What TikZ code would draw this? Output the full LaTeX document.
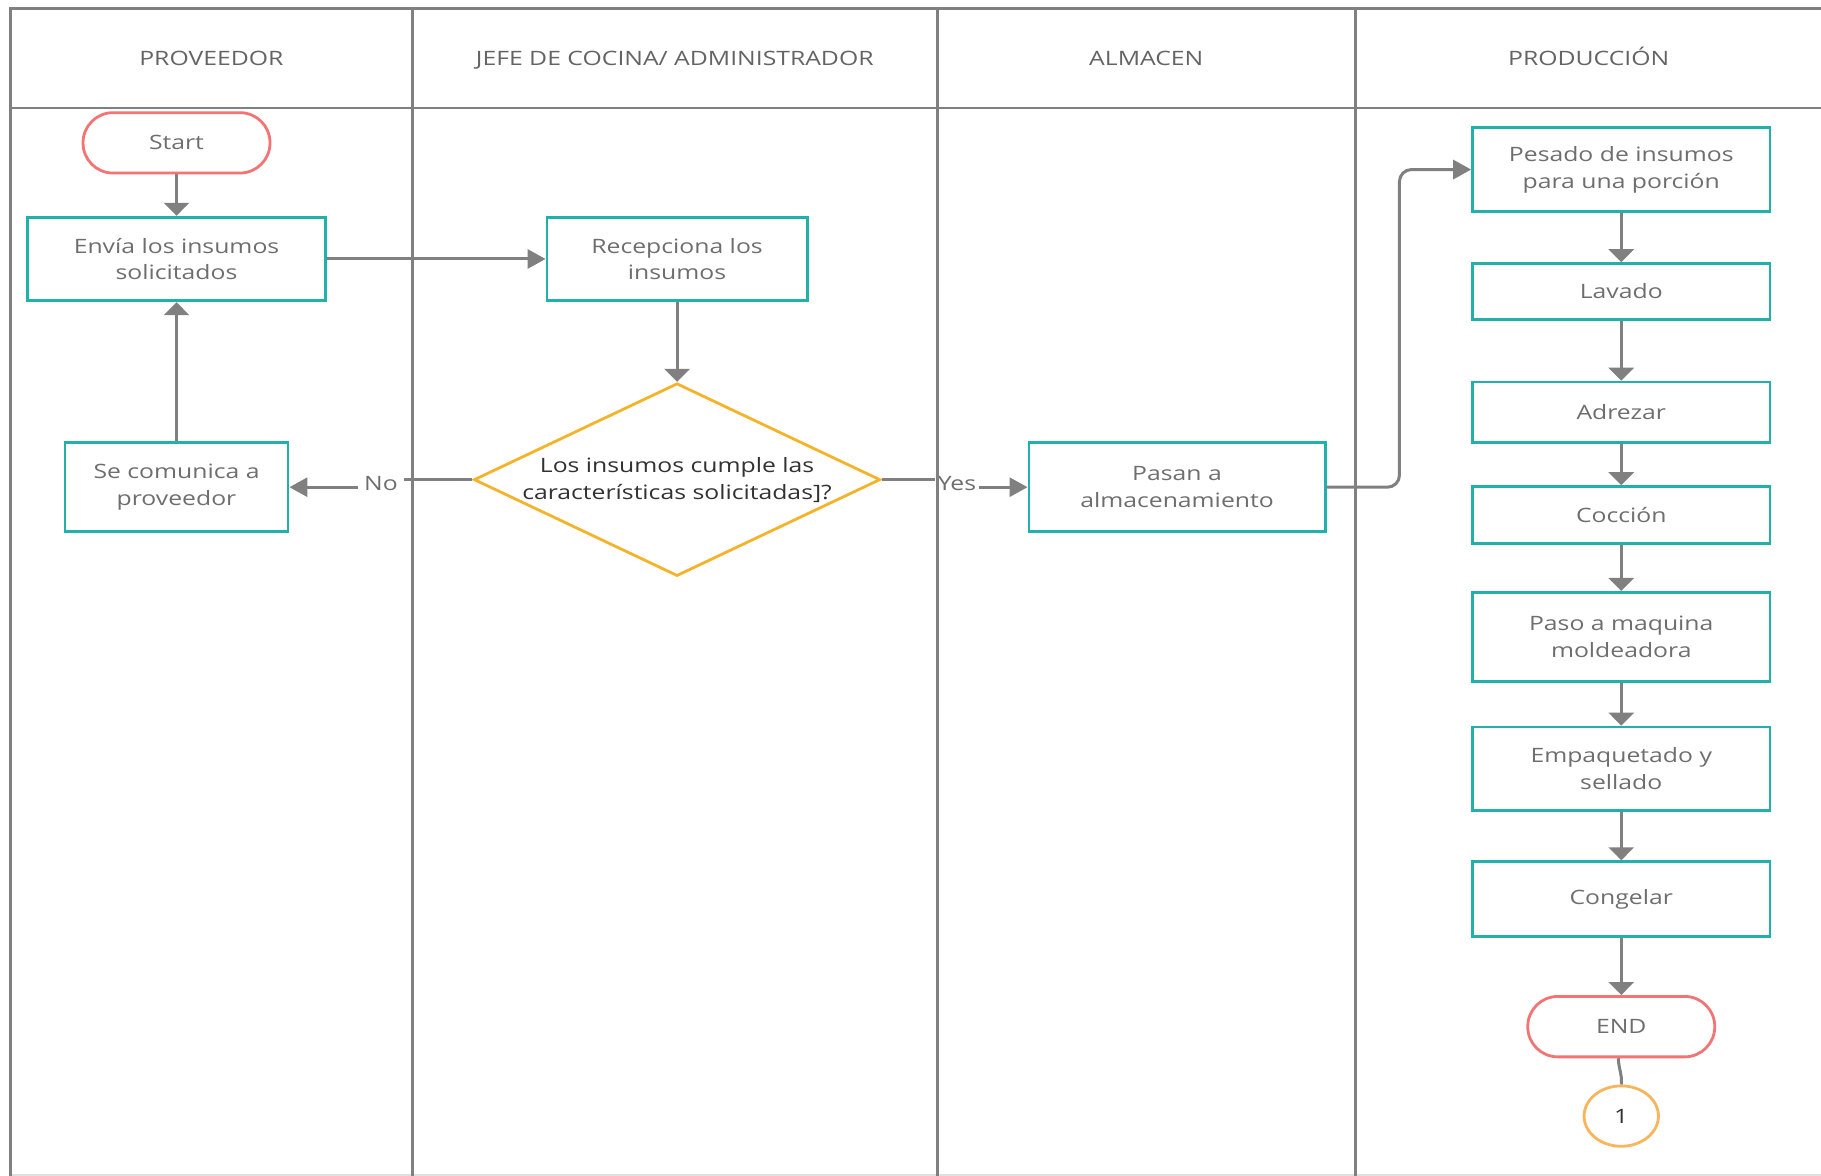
\documentclass[tikz,border=0pt]{standalone}
\usepackage{fontspec}
\setmainfont{Open Sans}[FakeStretch=1.25]
\usetikzlibrary{arrows.meta,shapes.geometric}
\definecolor{teal1}{RGB}{33,176,170}
\definecolor{red1}{RGB}{242,116,116}
\definecolor{gold1}{RGB}{244,179,42}
\definecolor{orange1}{RGB}{249,180,94}
\definecolor{line1}{RGB}{128,128,128}
\definecolor{txt1}{RGB}{110,110,110}
\definecolor{txt2}{RGB}{50,50,50}
\definecolor{hdr}{RGB}{100,100,100}
\begin{document}
\begin{tikzpicture}[x=0.5807pt,y=-0.5807pt,
  every node/.style={font=\fontsize{9.9}{13.4}\selectfont, text=txt1},
  proc/.style={draw=teal1, line width=1.4pt, fill=white, align=center, inner sep=0pt, minimum width=148.7pt},
  twol/.style={execute at begin node={\rule{0pt}{10.5pt}}},
  term/.style={draw=red1, line width=1.4pt, fill=white, rounded corners=15pt, inner sep=0pt, minimum width=93.5pt, minimum height=30.2pt},
  conn/.style={draw=line1, line width=1.5pt},
  varr/.style={conn, -{Triangle[width=12.5pt,length=6.5pt]}},
  harr/.style={conn, -{Triangle[width=9.5pt,length=9pt]}},
  lane/.style={draw=line1, line width=1.4pt},
  lbl/.style={fill=white, inner xsep=2pt, inner ysep=1pt},
  hdrtext/.style={text=hdr, anchor=base},
]
\useasboundingbox (0,0) rectangle (1568,1012);
\fill[white] (0,0) rectangle (1568,1012);

% headers
\node[hdrtext] (h1) at (182,56.5) {PROVEEDOR};
\node[hdrtext] (h2) at (581,56.5) {JEFE DE COCINA/ ADMINISTRADOR};
\node[hdrtext] (h3) at (987,56.5) {ALMACEN};
\node[hdrtext] (h4) at (1368,56.5) {PRODUCCIÓN};

% nodes
\node[term] (start) at (152,123) {Start};
\node[proc, twol, minimum height=41.8pt] (envia) at (152,223) {Envía los insumos\\solicitados};
\node[proc, twol, minimum width=130.1pt, minimum height=41.8pt] (recep) at (583,223) {Recepciona los\\insumos};
\node[draw=gold1, line width=1.4pt, fill=white, shape=diamond, minimum width=203.2pt, minimum height=96.4pt, inner sep=0pt,
  label={[text=txt2, align=center]center:{Los insumos cumple las\\características solicitadas]?}}] (dia) at (583,413) {};
\node[proc, twol, minimum width=111.5pt, minimum height=44.7pt] (comun) at (152,419.5) {Se comunica a\\proveedor};
\node[proc, twol, minimum width=148.1pt, minimum height=44.7pt] (pasan) at (1013.5,419.5) {Pasan a\\almacenamiento};

\node[proc, twol, minimum height=41.8pt] (pesado) at (1396,146) {Pesado de insumos\\para una porción};
\node[proc, minimum height=27.9pt] (lavado) at (1396,251) {Lavado};
\node[proc, minimum height=30.2pt] (adrezar) at (1396,355) {Adrezar};
\node[proc, minimum height=28.5pt] (coccion) at (1396,443.5) {Cocción};
\node[proc, twol, minimum height=44.7pt] (paso) at (1396,548.5) {Paso a maquina\\moldeadora};
\node[proc, twol, minimum height=41.8pt] (empaq) at (1396,662) {Empaquetado y\\sellado};
\node[proc, minimum height=37.2pt] (congelar) at (1396,774) {Congelar};
\node[term] (endn) at (1396,884) {END};
\node[draw=orange1, line width=1.4pt, fill=white, shape=ellipse, inner sep=0pt, minimum width=37.2pt, minimum height=30.2pt, text=txt2] (one) at (1396,961) {1};

% connectors
\draw[varr] (start) -- (envia);
\draw[harr] (envia) -- (recep);
\draw[varr] (recep) -- (dia);
\draw[varr] (comun) -- (envia);

\coordinate (nopt) at (328,416);
\draw[harr] (dia.west) -| (nopt) |- (comun.east);
\node[lbl, inner xsep=3pt] (nolbl) at (nopt) {No};

\coordinate (yespt) at (824,416);
\draw[harr] (dia.east) -| (yespt) |- (pasan.west);
\node[lbl, inner xsep=1.2pt] (yeslbl) at (yespt) {Yes};

\coordinate (bendpt) at (1205,146);
\draw[harr, rounded corners=6pt] (pasan.east) -| (bendpt) -- (pesado.west);

\draw[varr] (pesado) -- (lavado);
\draw[varr] (lavado) -- (adrezar);
\draw[varr] (adrezar) -- (coccion);
\draw[varr] (coccion) -- (paso);
\draw[varr] (paso) -- (empaq);
\draw[varr] (empaq) -- (congelar);
\draw[varr] (congelar) -- (endn);
\draw[conn] ([xshift=-1.5pt]endn.south) .. controls (1394,922) and (1397,925) .. (one.north);

% swimlane frame (drawn last, as in the reference)
\draw[draw=black!12, line width=1pt] (9,1011.5) -- (1568,1011.5);
\draw[lane] (1572,7) -- (9,7) -- (9,1014);
\draw[lane] (9,93) -- (1572,93);
\draw[lane] (355,7) -- (355,1014);
\draw[lane] (807,7) -- (807,1014);
\draw[lane] (1167,7) -- (1167,1014);
\draw[lane] (1569,7) -- (1569,1014);
\end{tikzpicture}
\end{document}
